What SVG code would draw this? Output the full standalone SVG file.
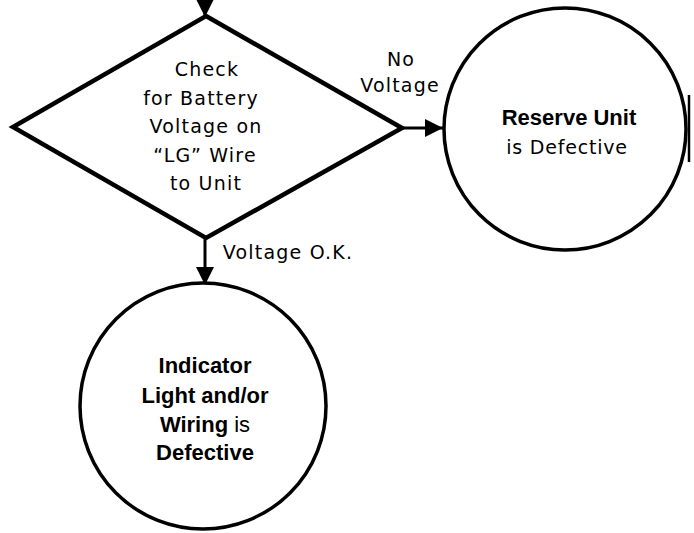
<svg xmlns="http://www.w3.org/2000/svg" width="694" height="533" viewBox="0 0 694 533">
<style>
.shape{fill:#fff;stroke:#000;}
.reg{font-family:"DejaVu Sans",sans-serif;font-size:19px;letter-spacing:1.2px;fill:#000;text-anchor:middle;}
.bold{font-family:"Liberation Sans",Arial,sans-serif;font-size:22px;font-weight:bold;fill:#000;text-anchor:middle;}
.conn{stroke:#000;stroke-width:3;fill:none;}
</style>
<defs>
<marker id="arr" viewBox="0 0 10 10" refX="10" refY="5" markerWidth="6" markerHeight="6.5" markerUnits="strokeWidth" orient="auto">
<path d="M0,0 L10,5 L0,10 Z" fill="#000"/>
</marker>
</defs>
<rect width="694" height="533" fill="#fff"/>
<g id="connectors">
<line class="conn" x1="205" y1="-2" x2="205" y2="17" marker-end="url(#arr)"/>
<line class="conn" x1="402" y1="128" x2="443" y2="128" marker-end="url(#arr)"/>
<line class="conn" x1="205" y1="238" x2="205" y2="285" marker-end="url(#arr)"/>
<text class="reg" x="401" y="66">No</text>
<text class="reg" x="400" y="92">Voltage</text>
<text class="reg" x="288" y="259">Voltage O.K.</text>
</g>
<g id="check">
<polygon class="shape" stroke-width="4.5" stroke-linejoin="miter" points="206,16 402,128 206,238 13,127"/>
<text class="reg" x="207" y="76">Check</text>
<text class="reg" x="201" y="105">for Battery</text>
<text class="reg" x="206" y="133">Voltage on</text>
<text class="reg" x="205" y="162">“LG” Wire</text>
<text class="reg" x="206" y="190">to Unit</text>
</g>
<g id="reserve">
<circle class="shape" stroke-width="3.5" cx="565" cy="129" r="121"/>
<text class="bold" x="569" y="125">Reserve Unit</text>
<text class="reg" x="567" y="154" style="letter-spacing:0.8px">is Defective</text>
</g>
<line x1="689" y1="95" x2="689" y2="162" stroke="#000" stroke-width="2.5"/>
<g id="indicator">
<circle class="shape" stroke-width="3.5" cx="203" cy="406" r="123"/>
<text class="bold" x="205" y="373">Indicator</text>
<text class="bold" x="205" y="403">Light and/or</text>
<text class="bold" x="205" y="432">Wiring <tspan font-weight="normal">is</tspan></text>
<text class="bold" x="205" y="460">Defective</text>
</g>
</svg>
